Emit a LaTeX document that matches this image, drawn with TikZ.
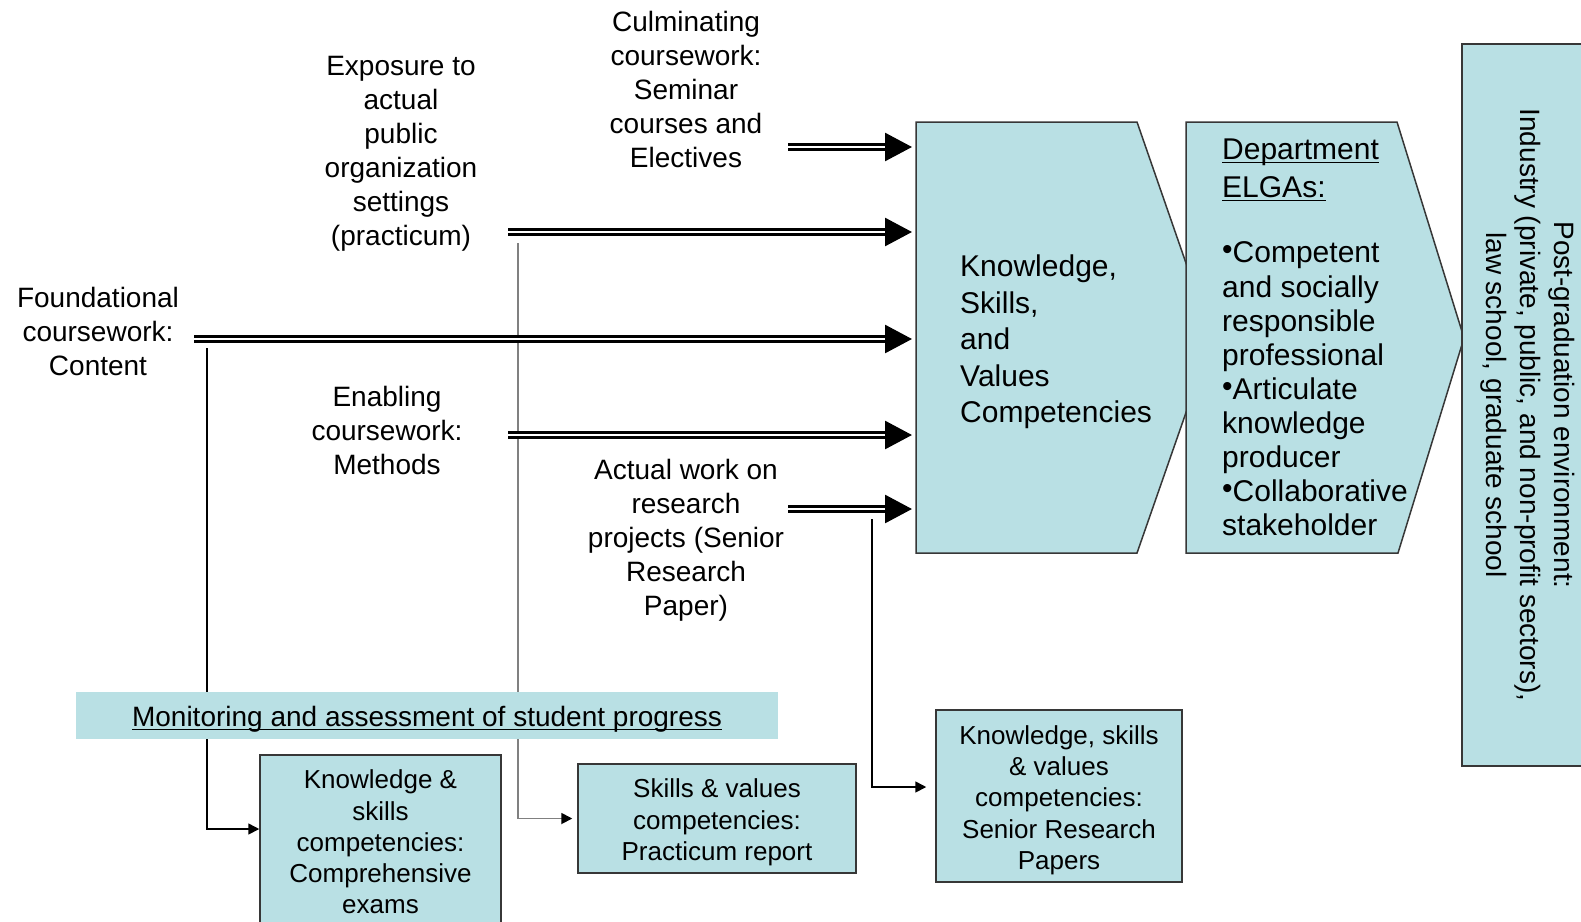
\documentclass[tikz,border=0pt]{standalone}
\usepackage{fontspec}
\setmainfont{Liberation Sans}
\usetikzlibrary{arrows.meta,calc}
\definecolor{boxfill}{RGB}{185,224,228}
\definecolor{edge}{RGB}{55,55,55}
\definecolor{fbgray}{RGB}{128,128,128}
\newsavebox\ulbox
\newcommand\ulx[1]{\sbox\ulbox{#1}\rlap{\usebox\ulbox}\rule[-4pt]{\wd\ulbox}{1.6pt}}
\newcommand\bul{{\fontsize{30}{30}\selectfont\raisebox{3pt}{•}}}
\begin{document}
\begin{tikzpicture}[x=1pt,y=-1pt,
  lbl/.style={align=center, inner sep=0pt, font=\fontsize{28}{34}\selectfont},
  ksvtxt/.style={align=left, inner sep=0pt, font=\fontsize{30}{36.6}\selectfont},
  elgtxt/.style={align=left, inner sep=0pt, font=\fontsize{30}{34.1}\selectfont},
  smallbox/.style={draw=edge, line width=1.5pt, fill=boxfill, align=center, inner sep=0pt, font=\fontsize{26}{31.3}\selectfont},
  shapebox/.style={draw=edge, line width=1.5pt, fill=boxfill, line join=miter},
  dbl/.style={draw=black, double=white, line width=2.7pt, double distance=2.4pt, -{Triangle[length=27pt,width=28pt]}},
  fb/.style={line width=1.6pt, -{Triangle[length=11pt,width=11pt,color=black]}},
]
\clip (0,0) rectangle (1581,921);
\fill[white] (0,0) rectangle (1581,921);

% double-arrow and feedback coordinates
\coordinate (s1) at (788,147); \coordinate (k1) at (912,147);
\coordinate (s2) at (508,232); \coordinate (k2) at (912,232);
\coordinate (s3) at (194,339); \coordinate (k3) at (912,339);
\coordinate (s4) at (508,435); \coordinate (k4) at (912,435);
\coordinate (s5) at (788,509); \coordinate (k5) at (912,509);
\coordinate (f1) at (207,348);
\coordinate (f2) at (518,243);
\coordinate (f3) at (872,519);

% bottom boxes
\node[smallbox, minimum width=241, minimum height=174] (comp) at (380.5,842) {Knowledge \&\\skills\\competencies:\\Comprehensive\\exams};
\node[smallbox, minimum width=278, minimum height=109, text depth=0pt] (prac) at (717,818.5) {};
\node[align=center, inner sep=0pt, font=\fontsize{26}{31.3}\selectfont] (practxt) at (717,822.5) {Skills \& values\\competencies:\\Practicum report};
\node[smallbox, minimum width=246, minimum height=172] (senior) at (1059,796) {};
\node[align=center, inner sep=0pt, font=\fontsize{26}{31.3}\selectfont] (seniortxt) at (1059,800) {Knowledge, skills\\\& values\\competencies:\\Senior Research\\Papers};

% feedback lines
\draw[fb] (f1) |- (comp.west |- 0,829);
\draw[fb, fbgray, line width=1.8pt] (f2) |- ($(prac.west)+(-5,0)$);
\draw[fb] (f3) |- ($(senior.west |- 0,787)+(-9,0)$);

% monitoring bar
\node[fill=boxfill, minimum width=702, minimum height=47, inner sep=0pt] (mon) at (427,715.5) {};
\node[lbl] (montxt) at (427,719) {\ulx{Monitoring and assessment of student progress}};

% KSV shape
\draw[shapebox] (916,122) -- (1137,122) -- (1212,338) -- (1137,553) -- (916,553) -- cycle;
\node[ksvtxt, anchor=west] (ksv) at (960,342) {Knowledge,\\Skills,\\and\\Values\\Competencies};

% ELGA shape
\draw[shapebox] (1186,122) -- (1397,122) -- (1464,338) -- (1398,553) -- (1186,553) -- cycle;
\node[elgtxt, anchor=west, font=\fontsize{30}{38}\selectfont] (elgh) at (1222,170) {\ulx{Department}\\\ulx{ELGAs:}};
\node[elgtxt, anchor=west] (elgb) at (1222,389) {\bul Competent\\and socially\\responsible\\professional\\\bul Articulate\\knowledge\\producer\\\bul Collaborative\\stakeholder};

% post-graduation box
\draw[shapebox] (1600,44) -- (1462,44) -- (1462,766) -- (1600,766);
\fill[boxfill] (1462.75,44.75) rectangle (1600,765.25);
\node[lbl, rotate=-90] (post) at (1528,405) {Post-graduation environment:\\Industry (private, public, and non-profit sectors),\\law school, graduate school};

% input labels
\node[lbl] (culm) at (686,89) {Culminating\\coursework:\\Seminar\\courses and\\Electives};
\node[lbl] (expo) at (401,154) {Exposure to\\actual\\public\\organization\\settings\\(practicum)};
\node[lbl] (found) at (98,331) {Foundational\\coursework:\\Content};
\node[lbl] (enab) at (387,430) {Enabling\\coursework:\\Methods};
\node[lbl] (actual) at (686,540) {Actual work on\\research\\projects (Senior\\Research\\Paper)};

% double arrows
\draw[dbl] (s1) -- (k1);
\draw[dbl] (s2) -- (k2);
\draw[dbl] (s3) -- (k3);
\draw[dbl] (s4) -- (k4);
\draw[dbl] (s5) -- (k5);
\end{tikzpicture}
\end{document}
